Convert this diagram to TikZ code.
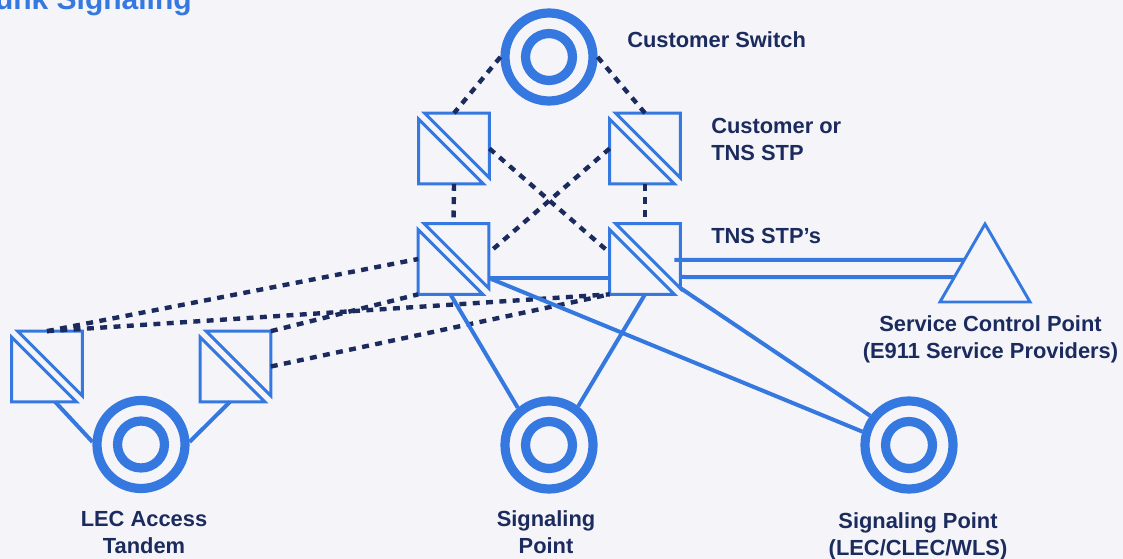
\documentclass[tikz,border=0pt]{standalone}
\usepackage{fontspec}
\setmainfont{Liberation Sans}
\usepackage{xcolor}
\usetikzlibrary{calc,shapes.geometric}
\definecolor{pageBg}{HTML}{F5F5F9}
\definecolor{navy}{HTML}{1B2B5E}
\definecolor{netBlue}{HTML}{3578E0}
\tikzset{
  lab/.style={text=navy, font=\fontsize{16.4}{20.25}\bfseries\selectfont, inner sep=0pt, align=center},
  titleLab/.style={text=netBlue, font=\fontsize{22.5}{26}\bfseries\selectfont, inner sep=0pt},
  shapeLine/.style={line width=2.2pt, draw=netBlue},
  linkLine/.style={line width=3pt, draw=netBlue},
  dotLine/.style={line width=3.3pt, draw=navy, dash pattern=on 5.2pt off 4.8pt},
  stpBox/.style={rectangle, minimum size=53pt, inner sep=0pt, outer sep=0pt},
  scpTri/.style={regular polygon, regular polygon sides=3, minimum size=78pt, inner sep=0pt, outer sep=0pt, shapeLine},
  spRing/.style={circle, draw=netBlue, line width=6.9pt, minimum size=66pt, inner sep=0pt,
    path picture={\draw[netBlue, line width=6.9pt] (path picture bounding box.center) circle (17.6pt);}}
}
\begin{document}
\begin{tikzpicture}[x=0.75pt,y=-0.75pt]
\useasboundingbox[fill=pageBg] (0,0) rectangle (1123,559);
\node[titleLab, anchor=base east] (title) at (192,10) {unk Signaling};

% switching points
\node[spRing] (custSw) at (549,57) {};
\node[spRing] (lecTan) at (141,444.5) {};
\node[spRing] (sigPt) at (549,445) {};
\node[spRing] (clecPt) at (909,445) {};

% STP pairs
\node[stpBox] (custA) at (454,148.5) {};
\node[stpBox] (custB) at (645,148.5) {};
\node[stpBox] (tnsA) at (453.5,259) {};
\node[stpBox] (tnsB) at (645,259) {};
\node[stpBox] (lecA) at (47,366.5) {};
\node[stpBox] (lecB) at (235.5,366.5) {};
\foreach \stp in {custA,custB,tnsA,tnsB,lecA,lecB} {
  \draw[shapeLine] ($(\stp.north west)+(6,0)$) -- (\stp.north east) -- ($(\stp.south east)+(0,-6)$) -- cycle;
  \draw[shapeLine] ($(\stp.north west)+(0,6)$) -- (\stp.south west) -- ($(\stp.south east)+(-6,0)$) -- cycle;
}
\node[scpTri] (scp) at (985,276) {};

% dotted links
\draw[dotLine] (custSw.west) -- (custA.north);
\draw[dotLine] (custSw.east) -- (custB.north);
\draw[dotLine] (custA.south) -- (tnsA.north);
\draw[dotLine] (custB.south) -- (tnsB.north);
\draw[dotLine] (custA.east) -- (tnsB.170);
\draw[dotLine] (custB.west) -- (tnsA.10);
\draw[dotLine] (lecA.north) -- (tnsA.west);
\draw[dotLine] (lecA.north) -- (tnsB.south west);
\draw[dotLine] (lecB.north east) -- (tnsA.south west);
\draw[dotLine] (lecB.east) -- (tnsB.south west);

% solid links
\coordinate (scpUp) at ($(scp.corner 1)!0.46!(scp.corner 2)$);
\coordinate (scpLow) at ($(scp.corner 1)!0.68!(scp.corner 2)$);
\draw[linkLine] ($(tnsA.east)+(0,19)$) -- ($(tnsB.west)+(0,19)$);
\draw[linkLine] ($(tnsB.east)+(-6,1)$) -- (scpUp);
\draw[linkLine] ($(tnsB.east)+(0,18)$) -- (scpLow);
\draw[linkLine] ($(tnsA.east)+(0,19)$) -- (clecPt.164);
\draw[linkLine] ($(tnsB.east)+(0,29)$) -- (clecPt.143);
\draw[linkLine] (tnsA.265) -- (sigPt.130);
\draw[linkLine] (tnsB.south) -- (sigPt.53);
\draw[linkLine] (lecA.283) -- (lecTan.177);
\draw[linkLine] (lecB.261) -- (lecTan.3);

% labels
\node[lab, anchor=base west] (swLab) at (627,47.5) {Customer Switch};
\node[lab, anchor=west, align=left] (custLab) at (711,139) {Customer or\\TNS STP};
\node[lab, anchor=base west] (tnsLab) at (711,244) {TNS STP's};
\node[lab] (scpLab) at (990.5,339.5) {Service Control Point\\(E911 Service Providers)};
\node[lab] (lecLab) at (144,532) {LEC Access\\Tandem};
\node[lab] (sigLab) at (546,532) {Signaling\\Point};
\node[lab] (clecLab) at (918,536) {Signaling Point\\(LEC/CLEC/WLS)};
\end{tikzpicture}
\end{document}
